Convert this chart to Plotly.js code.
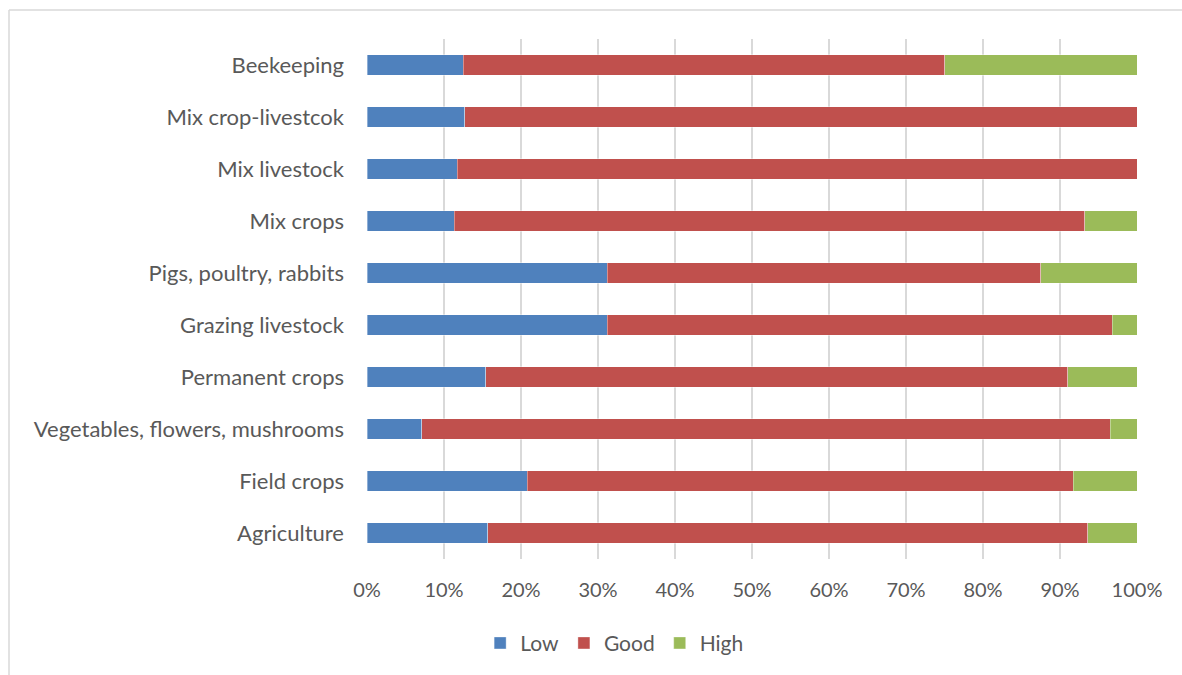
<!DOCTYPE html>
<html>
<head>
<meta charset="utf-8">
<script src="https://cdn.plot.ly/plotly-3.0.1.min.js"></script>
<style>
  html, body { margin: 0; padding: 0; background: #ffffff; }
  #chart { width: 1182px; height: 675px; }
</style>
</head>
<body>
<div id="chart"></div>
<script>
// Farm types, listed bottom to top
const categories = [
  "Agriculture",
  "Field crops",
  "Vegetables, flowers, mushrooms",
  "Permanent crops",
  "Grazing livestock",
  "Pigs, poultry, rabbits",
  "Mix crops",
  "Mix livestock",
  "Mix crop-livestcok",
  "Beekeeping"
];

// Share of farms in each class (%)
const lowValues  = [15.7, 20.8, 7.1, 15.4, 31.2, 31.2, 11.3, 11.7, 12.7, 12.5];
const goodValues = [77.9, 70.9, 89.4, 75.6, 65.6, 56.3, 81.9, 88.3, 87.3, 62.5];
const highValues = [6.4, 8.3, 3.5, 9.0, 3.2, 12.5, 6.8, 0, 0, 25.0];

const xTickVals = [0, 10, 20, 30, 40, 50, 60, 70, 80, 90, 100];
const xTickText = ["0%", "10%", "20%", "30%", "40%", "50%", "60%", "70%", "80%", "90%", "100%"];

const FONT = "Lato, 'Open Sans', sans-serif";
const TEXT_COLOR = "#595959";

// plot area geometry in pixels, used for the frame lines
const PLOT_W = 1182 - 367 - 45;
const PLOT_H = 675 - 39 - 116;
const FRAME_LEFT = (9 - 367) / PLOT_W;
const FRAME_TOP = 1 + (39 - 10) / PLOT_H;

function series(name, values, color) {
  return {
    type: "bar",
    orientation: "h",
    name: name,
    y: categories,
    x: values,
    marker: { color: color, line: { color: "rgba(255,255,255,0.6)", width: 0.6 } },
    hoverinfo: "name+x+y"
  };
}

const data = [
  series("Low", lowValues, "#4F81BD"),
  series("Good", goodValues, "#C0504D"),
  series("High", highValues, "#9BBB59")
];

const layout = {
  width: 1182,
  height: 675,
  barmode: "stack",
  bargap: 0.6,
  paper_bgcolor: "#ffffff",
  plot_bgcolor: "#ffffff",
  font: { family: FONT, size: 20, color: TEXT_COLOR },
  margin: { l: 367, r: 45, t: 39, b: 116, pad: 0 },
  xaxis: {
    range: [0, 100],
    tickvals: xTickVals,
    ticktext: xTickText,
    showgrid: true,
    gridcolor: "#d9d9d9",
    gridwidth: 1.2,
    zeroline: false,
    showline: false,
    ticks: "",
    ticklabelstandoff: 17,
    tickfont: { family: FONT, size: 20, color: TEXT_COLOR },
    fixedrange: true
  },
  yaxis: {
    type: "category",
    showgrid: false,
    zeroline: false,
    showline: false,
    ticks: "",
    ticklabelstandoff: 22,
    tickfont: { family: FONT, size: 22, color: TEXT_COLOR },
    fixedrange: true
  },
  showlegend: true,
  legend: {
    orientation: "h",
    xref: "container",
    yref: "container",
    x: 0.52,
    xanchor: "center",
    y: 0.047,
    yanchor: "middle",
    traceorder: "normal",
    itemwidth: 30,
    font: { family: FONT, size: 21, color: TEXT_COLOR },
    bgcolor: "rgba(0,0,0,0)"
  },
  shapes: [
    // chart frame (left and top edges)
    { type: "line", xref: "paper", yref: "paper",
      x0: FRAME_LEFT, x1: FRAME_LEFT, y0: FRAME_TOP, y1: -1,
      line: { color: "#d9d9d9", width: 1.5 } },
    { type: "line", xref: "paper", yref: "paper",
      x0: FRAME_LEFT, x1: 2, y0: FRAME_TOP, y1: FRAME_TOP,
      line: { color: "#d9d9d9", width: 1.5 } }
  ]
};

Plotly.newPlot("chart", data, layout, { displayModeBar: false, staticPlot: true });
</script>
</body>
</html>
